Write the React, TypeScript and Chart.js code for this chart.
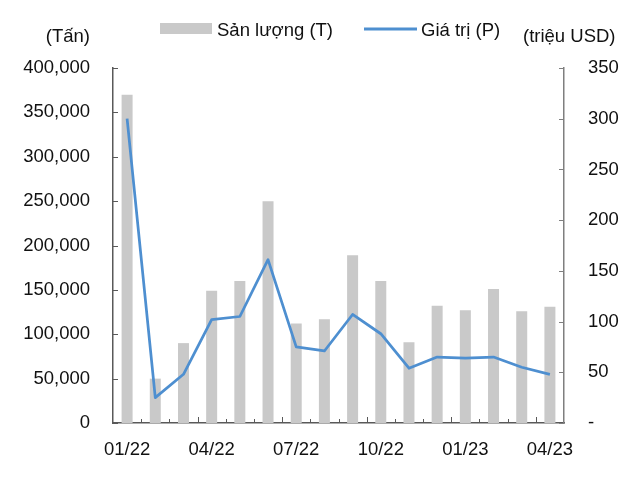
import React, { useEffect, useRef } from "react";
import { Chart, registerables } from "chart.js";

Chart.register(...registerables);

const categories = ["01/22","02/22","03/22","04/22","05/22","06/22","07/22","08/22","09/22","10/22","11/22","12/22","01/23","02/23","03/23","04/23"];
const volumeTons = [370000, 50000, 90000, 149000, 160000, 250000, 112000, 117000, 189000, 160000, 91000, 132000, 127000, 151000, 126000, 131000];
const valueMUSD = [300, 25, 48, 102, 105, 161, 75, 71, 107, 88, 54, 65, 64, 65, 55, 48];
const volumeLabel = "Sản lượng (T)";
const valueLabel = "Giá trị (P)";
const leftUnit = "(Tấn)";
const rightUnit = "(triệu USD)";

const FONT = "Liberation Sans, Arial, sans-serif";
const FONT_SIZE = 18.5;
const BAR_COLOR = "#C9C9C9";
const LINE_COLOR = "#4E8FD0";
const TEXT_COLOR = "#111111";

const decorPlugin = {
  id: "decor",
  afterDraw(chart: any) {
    const ctx = chart.ctx as CanvasRenderingContext2D;
    const x = chart.scales.x;
    const yL = chart.scales.yL;
    const yR = chart.scales.yR;
    const area = chart.chartArea;
    ctx.save();
    // inward ticks left
    ctx.lineWidth = 1;
    ctx.strokeStyle = "#595959";
    yL.ticks.forEach((t: any) => {
      const py = Math.round(yL.getPixelForValue(t.value)) + 0.5;
      ctx.beginPath();
      ctx.moveTo(area.left, py);
      ctx.lineTo(area.left + 5, py);
      ctx.stroke();
    });
    ctx.strokeStyle = "#7F7F7F";
    yR.ticks.forEach((t: any) => {
      const py = Math.round(yR.getPixelForValue(t.value)) + 0.5;
      ctx.beginPath();
      ctx.moveTo(area.right, py);
      ctx.lineTo(area.right - 5, py);
      ctx.stroke();
    });
    // x ticks at category boundaries
    ctx.strokeStyle = "#595959";
    const n = categories.length;
    const w = (area.right - area.left) / n;
    for (let i = 1; i < n; i++) {
      const px = Math.round(x.getPixelForValue(i) - w / 2) + 0.5;
      const len = i % 3 === 0 ? 6 : 4;
      ctx.beginPath();
      ctx.moveTo(px, area.bottom);
      ctx.lineTo(px, area.bottom - len);
      ctx.stroke();
    }
    // legend
    ctx.font = `${FONT_SIZE}px ${FONT}`;
    ctx.fillStyle = BAR_COLOR;
    ctx.fillRect(160, 23, 52, 11);
    ctx.fillStyle = TEXT_COLOR;
    ctx.textBaseline = "middle";
    ctx.textAlign = "left";
    ctx.fillText(volumeLabel, 217, 31);
    ctx.strokeStyle = LINE_COLOR;
    ctx.lineWidth = 3;
    ctx.beginPath();
    ctx.moveTo(364, 29);
    ctx.lineTo(417, 29);
    ctx.stroke();
    ctx.fillText(valueLabel, 421, 31);
    // unit titles
    ctx.textAlign = "right";
    ctx.fillText(leftUnit, 90, 37);
    ctx.textAlign = "left";
    ctx.fillText(rightUnit, 523, 37);
    ctx.restore();
  },
};

export default function App() {
  const ref = useRef<HTMLCanvasElement | null>(null);
  useEffect(() => {
    document.body.style.margin = "0";
    const canvas = ref.current!;
    const chart = new Chart(canvas, {
      type: "bar",
      data: {
        labels: categories,
        datasets: [
          {
            type: "line",
            label: valueLabel,
            data: valueMUSD,
            yAxisID: "yR",
            borderColor: LINE_COLOR,
            backgroundColor: LINE_COLOR,
            borderWidth: 2.75,
            pointRadius: 0,
            tension: 0,
            borderJoinStyle: "round",
            order: 0,
          } as any,
          {
            type: "bar",
            label: volumeLabel,
            data: volumeTons,
            yAxisID: "yL",
            backgroundColor: BAR_COLOR,
            barPercentage: 0.39,
            categoryPercentage: 1,
            order: 1,
          },
        ],
      },
      options: {
        animation: false,
        responsive: false,
        maintainAspectRatio: false,
        layout: { padding: { top: 68, left: 0, right: 0, bottom: 0 } },
        plugins: { legend: { display: false }, tooltip: { enabled: false } },
        scales: {
          x: {
            type: "category",
            offset: true,
            grid: { display: false, drawTicks: false, offset: true },
            border: { display: true, color: "#595959", width: 1.5 },
            ticks: {
              autoSkip: false,
              maxRotation: 0,
              minRotation: 0,
              padding: 16,
              color: TEXT_COLOR,
              font: { family: FONT, size: FONT_SIZE },
              callback: (_v: any, i: number) => (i % 3 === 0 ? categories[i] : ""),
            },
            afterFit: (s: any) => {
              s.height = 62;
            },
          },
          yL: {
            type: "linear",
            position: "left",
            min: 0,
            max: 400000,
            grid: { display: false, drawTicks: false },
            border: { display: true, color: "#595959", width: 1.5 },
            ticks: {
              stepSize: 50000,
              padding: 23,
              color: TEXT_COLOR,
              font: { family: FONT, size: FONT_SIZE },
              callback: (v: any) => Number(v).toLocaleString("en-US"),
            },
            afterFit: (s: any) => {
              s.width = 113;
            },
          },
          yR: {
            type: "linear",
            position: "right",
            min: 0,
            max: 350,
            grid: { display: false, drawTicks: false },
            border: { display: true, color: "#7F7F7F", width: 1.5 },
            ticks: {
              stepSize: 50,
              padding: 24,
              color: TEXT_COLOR,
              font: { family: FONT, size: FONT_SIZE },
              callback: (v: any) => (Number(v) === 0 ? "-" : String(v)),
            },
            afterFit: (s: any) => {
              s.width = 78;
            },
          },
        },
      },
      plugins: [decorPlugin],
    });
    return () => chart.destroy();
  }, []);
  return (
    <div style={{ width: 642, height: 485, position: "relative", background: "#fff" }}>
      <canvas ref={ref} width={642} height={485} style={{ display: "block" }} />
    </div>
  );
}
